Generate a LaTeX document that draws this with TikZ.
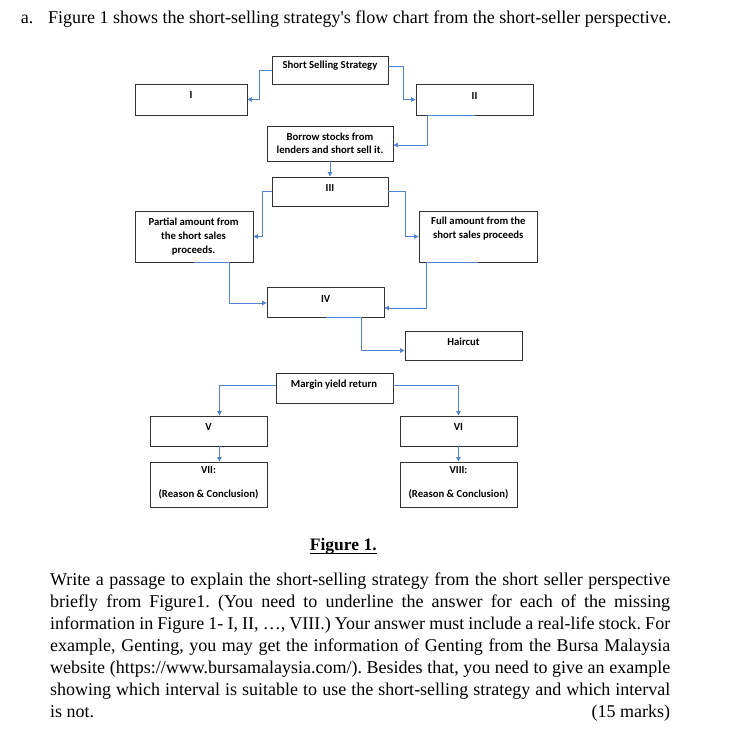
\documentclass[tikz,border=0pt]{standalone}
\usepackage{fontspec}
\setmainfont{Liberation Serif}
\newfontfamily\boxfont{Carlito}
\usetikzlibrary{arrows.meta}
\definecolor{conncol}{RGB}{84,132,206}
\definecolor{boxcol}{RGB}{50,50,50}
\tikzset{
  box/.style={draw=boxcol, line width=0.9pt, inner sep=0pt, fill=none},
  conn/.style={draw=conncol, line width=0.9pt, -{Triangle[length=4.5pt,width=4.5pt]}},
  boxtxt/.style={anchor=base, inner sep=0pt, font=\boxfont\bfseries\fontsize{10.7}{13}\selectfont},
  serif/.style={anchor=base west, inner sep=0pt, font=\fontsize{18}{22}\selectfont\frenchspacing},
}
\newcommand{\bx}[7]{\node[box, minimum width=#4pt, minimum height=#5pt] (#1) at (#2,#3) {};}
\begin{document}
\begin{tikzpicture}[x=1pt,y=-1pt]
\useasboundingbox[fill=white] (0,0) rectangle (741,733);
% title
\node[serif, font=\fontsize{18}{20}\selectfont] (ta) at (20.7,24) {a.};
\node[serif, font=\fontsize{18}{20}\selectfont] (tt) at (48,24) {Figure 1 shows the short-selling strategy\textquotesingle s flow chart from the short-seller perspective.};
% boxes
\bx{ss}{330}{70}{116}{28}{}{}
\bx{bI}{191}{99.5}{112}{31}{}{}
\bx{bII}{474.5}{99.5}{117}{31}{}{}
\bx{bor}{330}{143.5}{126}{35}{}{}
\bx{bIII}{330}{191.5}{116}{29}{}{}
\bx{part}{194}{236.5}{118}{51}{}{}
\bx{full}{478}{236.5}{118}{51}{}{}
\bx{bIV}{325.5}{302}{117}{30}{}{}
\bx{hair}{463.5}{345.5}{117}{29}{}{}
\bx{marg}{334.5}{388}{117}{30}{}{}
\bx{bV}{208.5}{431}{117}{30}{}{}
\bx{bVI}{458.5}{431}{117}{30}{}{}
\bx{bVII}{208.5}{484.5}{117}{45}{}{}
\bx{bVIII}{458.5}{484.5}{117}{45}{}{}
% box texts
\node[boxtxt] (tss) at (330,69) {Short Selling Strategy};
\node[boxtxt] (tI) at (191,98.5) {I};
\node[boxtxt] (tII) at (474.5,99.5) {II};
\node[boxtxt] (tbor1) at (330,140.5) {Borrow stocks from};
\node[boxtxt] (tbor2) at (330,153.5) {lenders and short sell it.};
\node[boxtxt] (tIII) at (330,191) {III};
\node[boxtxt] (tp1) at (193.5,225) {Partial amount from};
\node[boxtxt] (tp2) at (193.5,239) {the short sales};
\node[boxtxt] (tp3) at (193.5,253) {proceeds.};
\node[boxtxt] (tf1) at (478.3,224.5) {Full amount from the};
\node[boxtxt] (tf2) at (478.3,238.5) {short sales proceeds};
\node[boxtxt] (tIV) at (325.7,302) {IV};
\node[boxtxt] (th) at (463.5,345) {Haircut};
\node[boxtxt] (tm) at (334,387.5) {Margin yield return};
\node[boxtxt] (tV) at (208.5,430) {V};
\node[boxtxt] (tVI) at (458.5,430) {VI};
\node[boxtxt] (tVII) at (208.5,473.5) {VII:};
\node[boxtxt] (tVIIr) at (208.5,497) {(Reason \& Conclusion)};
\node[boxtxt] (tVIII) at (458.5,473.5) {VIII:};
\node[boxtxt] (tVIIIr) at (458.5,497) {(Reason \& Conclusion)};
% connectors
\draw[conn] (ss.west) -- ++(-12.5,0) |- (bI.east);
\draw[conn] ([yshift=4pt]ss.east) -- ++(14.5,0) |- (bII.west);
\draw[conn] (bII.south) -- ++(-47.5,0) |- ([yshift=-1.5pt]bor.east);
\draw[conn] (bor.south) -- (bIII.north);
\draw[conn] (bIII.west) -- ++(-9.5,0) |- (part.east);
\draw[conn] (bIII.east) -- ++(16.5,0) |- (full.west);
\draw[conn] (part.south) -- ++(35.5,0) |- ([yshift=-1pt]bIV.west);
\draw[conn] (full.south) -- ++(-51.5,0) |- ([yshift=-6pt]bIV.east);
\draw[conn] (bIV.south) -- ++(36,0) |- ([yshift=-5pt]hair.west);
\draw[conn] ([yshift=3pt]marg.west) -| ([xshift=11pt]bV.north);
\draw[conn] ([yshift=3pt]marg.east) -| (bVI.north);
\draw[conn] ([xshift=11pt]bV.south) -- ([xshift=11pt]bVII.north);
\draw[conn] (bVI.south) -- (bVIII.north);
% caption
\node[anchor=base, inner sep=0pt, font=\bfseries\fontsize{17.5}{20}\selectfont] (cap) at (343.3,550.7) {Figure 1.};
\draw[line width=1.4pt] ([yshift=-2.8pt]cap.base west) -- ([yshift=-2.8pt]cap.base east);
% paragraph
\node[serif] (p1) at (50,585) {\makebox[620pt][s]{Write a passage to explain the short-selling strategy from the short seller perspective}};
\node[serif] (p2) at (50,607) {\makebox[620pt][s]{briefly from Figure1. (You need to underline the answer for each of the missing}};
\node[serif] (p3) at (50,629) {\makebox[620pt][s]{information in Figure 1- I, II, …, VIII.) Your answer must include a real-life stock. For}};
\node[serif] (p4) at (50,651) {\makebox[620pt][s]{example, Genting, you may get the information of Genting from the Bursa Malaysia}};
\node[serif] (p5) at (50,673) {\makebox[620pt][s]{website (https://www.bursamalaysia.com/). Besides that, you need to give an example}};
\node[serif] (p6) at (50,695) {\makebox[620pt][s]{showing which interval is suitable to use the short-selling strategy and which interval}};
\node[serif] (p7) at (50,717) {\makebox[620pt][s]{is not.\hfill(15 marks)}};
\end{tikzpicture}
\end{document}
